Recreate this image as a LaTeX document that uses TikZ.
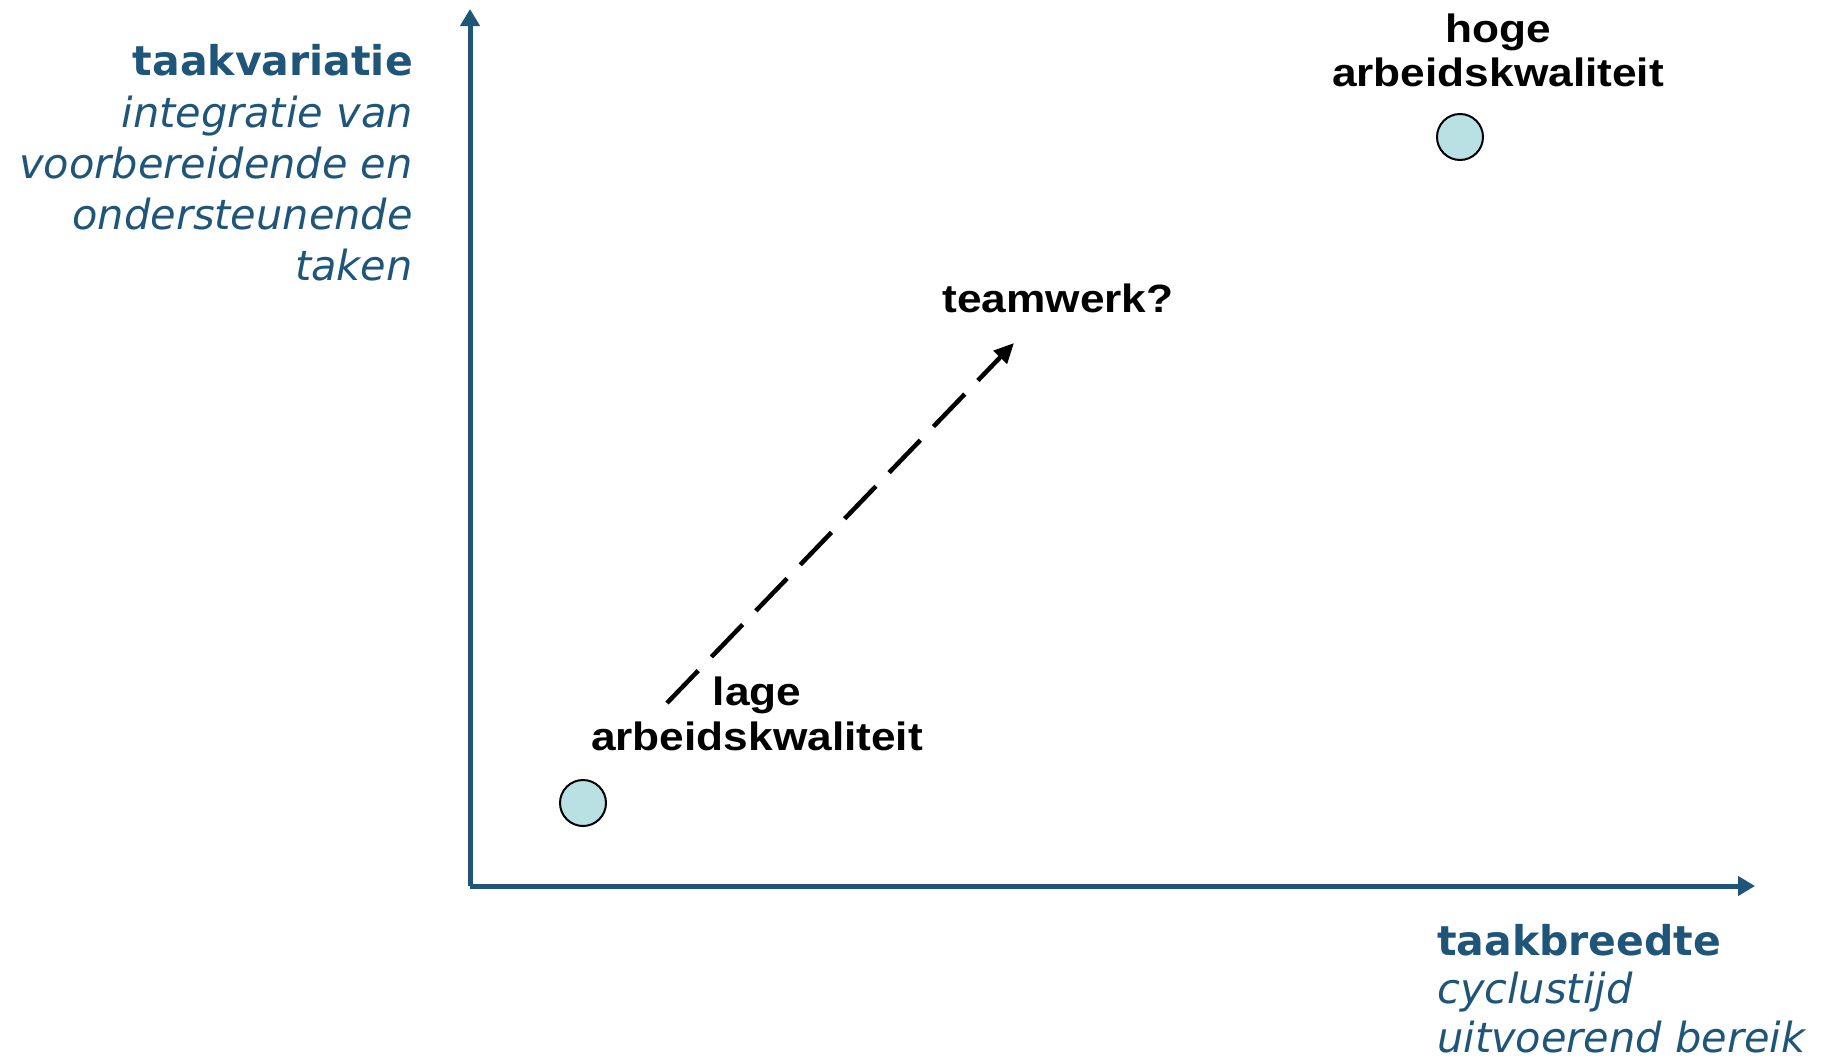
\documentclass[tikz,border=0pt]{standalone}
\usepackage{fontspec}
\usetikzlibrary{arrows.meta}
\newfontfamily\axisfont{DejaVu Sans}
\newfontfamily\labelfont[FakeStretch=1.12]{Liberation Sans}
\definecolor{axisblue}{HTML}{1F5579}
\definecolor{dotfill}{HTML}{B9E0E3}
\tikzset{
  axisline/.style={draw=axisblue, line width=5pt, -{Triangle[length=17pt,width=19pt]}},
  axistitle/.style={text=axisblue, font=\axisfont\bfseries\fontsize{41}{51}\selectfont, inner sep=0pt},
  axisnote/.style={text=axisblue, font=\axisfont\itshape\fontsize{41.5}{51}\selectfont, inner sep=0pt},
  levelbox/.style={font=\labelfont\bfseries\fontsize{39.5}{44.5}\selectfont, align=center, inner sep=0pt, anchor=base},
  dot/.style={circle, draw=black, line width=2pt, fill=dotfill, minimum size=46pt, inner sep=0pt},
  trend/.style={draw=black, line width=4.5pt, dash pattern=on 45pt off 19pt, -{Triangle[length=20pt,width=18pt]}}
}
\begin{document}
\begin{tikzpicture}[x=1pt,y=-1pt]
  \useasboundingbox (0,0) rectangle (1831,1060);

  % axes
  \coordinate (origin) at (470,886);
  \coordinate (ytop) at (470,9);
  \coordinate (xend) at (1755,886);
  \draw[axisline] (origin) -- (ytop);
  \draw[axisline] (origin) -- (xend);

  % vertical axis caption (multi-line nodes sit on their last baseline)
  \node[axistitle, anchor=base east] (vtitle) at (413,75) {taakvariatie};
  \node[axisnote, anchor=base east, align=right] (vnote) at (413,280)
    {integratie van\\voorbereidende en\\ondersteunende\\taken};

  % horizontal axis caption
  \node[axistitle, anchor=base west] (htitle) at (1437,955) {taakbreedte};
  \node[axisnote, anchor=base west, align=left, font=\axisfont\itshape\fontsize{41.5}{49}\selectfont] (hnote) at (1437,1052)
    {cyclustijd\\uitvoerend bereik};

  % positions
  \node[dot] (high) at (1460,137) {};
  \node[dot] (low) at (583,803) {};
  \node[levelbox] (highlabel) at (1498,86.5) {hoge\\arbeidskwaliteit};
  \node[levelbox] (lowlabel) at (757,750) {lage\\arbeidskwaliteit};
  \node[levelbox] (team) at (1058,312) {teamwerk?};

  % route from low to teamwork
  \coordinate (trendstart) at (667,703);
  \coordinate (trendend) at (1014,343);
  \draw[trend] (trendstart) -- (trendend);
\end{tikzpicture}
\end{document}
